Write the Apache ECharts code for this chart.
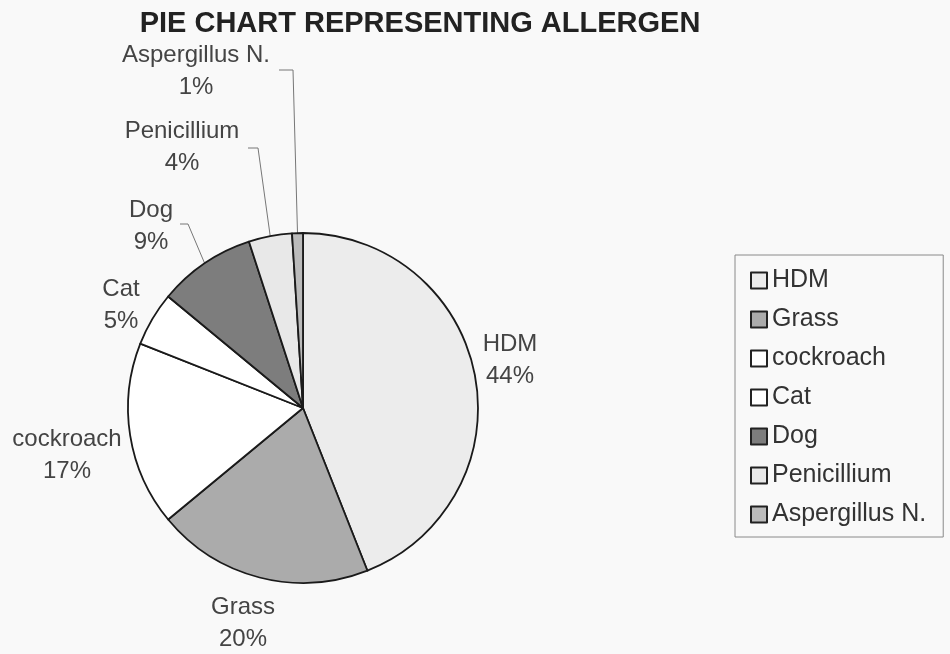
<!DOCTYPE html>
<html>
<head>
<meta charset="utf-8">
<script src="https://cdn.jsdelivr.net/npm/echarts@6/dist/echarts.min.js"></script>
<style>
  html, body { margin: 0; padding: 0; background: #f9f9f9; }
  #main { width: 950px; height: 654px; }
</style>
</head>
<body>
<div id="main"></div>
<script>
// allergen shares (%), clockwise from 12 o'clock
const categories = ['HDM', 'Grass', 'cockroach', 'Cat', 'Dog', 'Penicillium', 'Aspergillus N.'];
const shares = [44, 20, 17, 5, 9, 4, 1];
const fills = ['#ececec', '#ababab', '#ffffff', '#ffffff', '#7d7d7d', '#e8e8e8', '#bbbbbb'];

// label centre positions and leader elbows (layout only)
const labelPos = [[510, 360], [243, 623], [67, 455], [121, 305], [151, 226], [182, 147], [196, 71]];
const elbows = {4: [[188, 224], [180, 224]], 5: [[258, 148], [248, 148]], 6: [[293, 70], [279, 70]]};

let chart = echarts.init(document.getElementById('main'));

let pieData = [];
for (let i = 0; i < categories.length; i++) {
    pieData[i] = {
        value: shares[i],
        name: categories[i],
        itemStyle: {color: fills[i]},
        labelLine: {show: elbows[i] !== undefined}
    };
}

chart.setOption({
    backgroundColor: '#f9f9f9',
    animation: false,
    title: {
        text: 'PIE CHART REPRESENTING ALLERGEN',
        left: 415,
        textAlign: 'center',
        top: 4,
        textStyle: {
            fontFamily: 'Liberation Sans',
            fontWeight: 'bold',
            fontSize: 29,
            color: '#222'
        }
    },
    legend: {
        orient: 'vertical',
        left: 735,
        top: 255,
        itemWidth: 16,
        itemHeight: 16,
        itemGap: 14,
        padding: [13, 17, 10, 15],
        borderColor: '#8a8a8a',
        borderWidth: 1,
        icon: 'rect',
        itemStyle: {borderColor: '#222', borderWidth: 2},
        textStyle: {
            fontFamily: 'Liberation Sans',
            fontSize: 25,
            color: '#333',
            padding: [0, 0, 0, 0]
        },
        data: categories
    },
    series: [{
        name: 'Allergen',
        type: 'pie',
        center: [303, 408],
        radius: 175,
        startAngle: 90,
        clockwise: true,
        avoidLabelOverlap: false,
        data: pieData,
        itemStyle: {borderColor: '#1a1a1a', borderWidth: 1.8},
        label: {
            show: true,
            position: 'outside',
            formatter: '{b}\n{d}%',
            fontFamily: 'Liberation Sans',
            fontSize: 24,
            lineHeight: 32,
            color: '#444',
            align: 'center'
        },
        labelLine: {
            length: 10,
            length2: 10,
            lineStyle: {color: '#777', width: 1}
        },
        emphasis: {disabled: true},
        labelLayout: function (params) {
            const i = params.dataIndex;
            let out = {
                x: labelPos[i][0],
                y: labelPos[i][1],
                align: 'center',
                verticalAlign: 'middle',
                hideOverlap: false
            };
            if (elbows[i] && params.labelLinePoints) {
                const p0 = params.labelLinePoints[0];
                out.labelLinePoints = [[p0[0], p0[1]], elbows[i][0], elbows[i][1]];
            }
            return out;
        }
    }]
});
</script>
</body>
</html>
